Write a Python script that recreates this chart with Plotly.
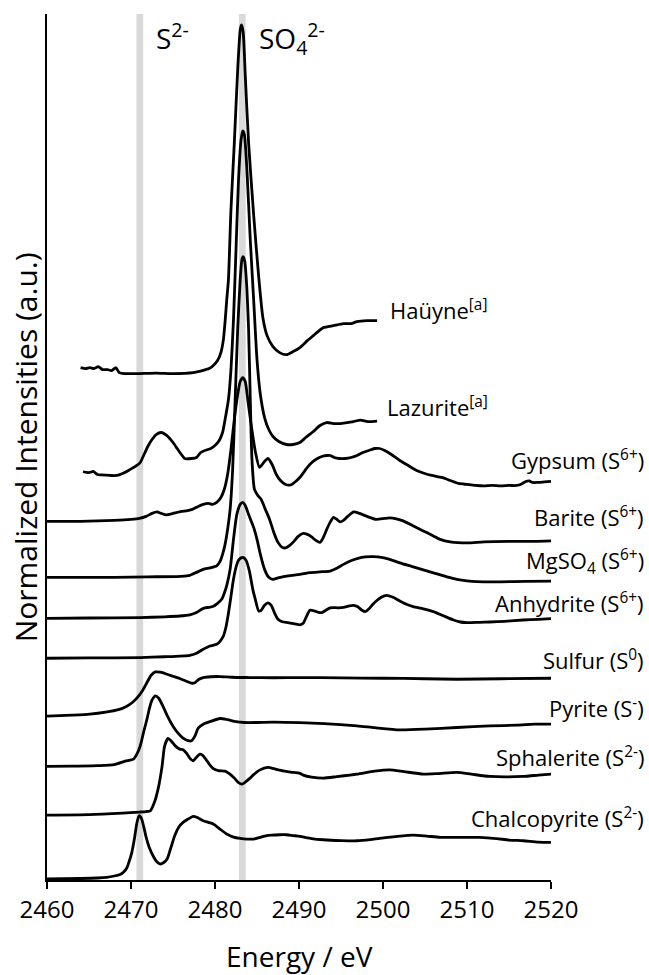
import plotly.graph_objects as go

# ---------------- data (energy in eV, stacked intensity in a.u.) ----------------
hauyne_E = [2464.0,2464.6,2465.1,2465.6,2466.1,2466.6,2467.2,2467.7,2468.2,2468.6,2469.3,2470.7,2473.0,2475.0,2477.4,2478.5,2479.3,2479.8,2480.3,2480.7,2481.0,2481.2,2481.4,2481.6,2481.9,2482.3,2482.7,2483.0,2483.15,2483.35,2483.6,2484.0,2484.6,2485.2,2485.7,2486.2,2486.9,2487.7,2488.5,2489.3,2490.1,2491.0,2491.7,2492.4,2492.9,2494.1,2495.3,2496.2,2496.9,2498.1,2499.3]
hauyne_I = [512,511,512,511,513,510,510,509,512,507,506,506,506.5,506,507,509,511,514,519,527,540,558,580,600,670,737,810,850,855,848,805,737,665,603,562,544,533,527,525,528,532,539,544,549,552,554,556,556,558,559,559]

lazurite_E = [2464.3,2464.7,2465.1,2465.5,2466.0,2466.5,2467.5,2468.3,2469.0,2469.7,2470.3,2470.7,2471.1,2471.5,2472.0,2472.5,2473.0,2473.6,2474.1,2474.5,2475.0,2475.5,2476.0,2476.4,2477.2,2477.8,2478.3,2478.8,2479.5,2480.0,2480.5,2480.9,2481.2,2481.6,2481.9,2482.2,2482.5,2482.8,2483.1,2483.3,2483.5,2483.8,2484.2,2484.6,2485.0,2485.4,2485.9,2486.4,2486.9,2487.6,2488.5,2489.3,2490.1,2490.8,2491.7,2492.5,2493.3,2494.1,2494.9,2495.7,2496.5,2497.3,2498.2,2499.3]
lazurite_I = [408,407,407,408,405,404.5,404,404,406,409,412,414,417,424,433,440,445,447,445,442,437,431,425,421,421,422,427,429,431,434,439,447,460,480,510,560,630,700,740,749,745,710,640,580,520,485,462,450,443,438,435,435,437,442,448,454,457,456,456,457,458,459.5,458,458.5]

gypsum_E = [2460.0,2462.0,2464.0,2466.0,2468.0,2470.0,2471.0,2471.8,2472.5,2473.1,2473.6,2474.2,2475.0,2476.0,2476.6,2477.3,2478.0,2478.6,2479.2,2479.7,2480.2,2480.7,2481.1,2481.5,2481.9,2482.3,2482.7,2483.0,2483.3,2483.6,2483.9,2484.3,2484.8,2485.3,2485.8,2486.3,2486.8,2487.3,2487.8,2488.4,2489.0,2489.6,2490.2,2490.9,2491.4,2492.0,2492.7,2493.3,2493.7,2494.2,2494.8,2495.5,2496.2,2496.9,2497.6,2498.3,2499.0,2499.6,2500.2,2501.0,2502.0,2503.0,2504.0,2504.8,2505.8,2507.0,2508.0,2509.0,2510.0,2511.0,2512.0,2513.0,2514.0,2515.0,2515.9,2516.5,2517.0,2517.4,2517.8,2518.4,2519.2,2520.0]
gypsum_I = [358,358,358,358.5,359,360,361,363,366,367.5,366,364.5,366,368,368.5,370,373,375,376,375,377,382,390,405,430,460,485,498,502,498,480,455,428,412,417,421,415,405,399,395,394.5,398,403,411,416,420,423,424,424,422,421,421,422,424,427,429,431,431,429,425,419,414,409,406.5,404,402,399,396,395,394,393.5,394,393.5,394,394,395.5,398,398.5,397,397,397.5,398]

barite_E = [2460.0,2464.0,2468.0,2472.0,2476.0,2477.0,2477.8,2478.6,2479.4,2480.2,2480.6,2480.9,2481.2,2481.5,2481.8,2482.1,2482.4,2482.7,2483.0,2483.2,2483.35,2483.55,2483.8,2484.0,2484.2,2484.4,2484.7,2485.1,2485.5,2486.0,2486.5,2487.0,2487.5,2488.0,2488.4,2488.9,2489.4,2489.9,2490.5,2491.0,2491.5,2492.0,2492.5,2492.9,2493.3,2493.7,2494.1,2494.5,2494.9,2495.3,2495.8,2496.5,2497.2,2498.1,2499.2,2500.2,2500.8,2501.6,2502.4,2503.5,2504.8,2506.0,2506.8,2508.0,2510.0,2512.0,2515.0,2518.0,2520.0]
barite_I = [302,302,302,302.5,303,304,307,310,311.5,313.5,318,325,335,350,370,410,480,550,600,620,623,618,590,550,480,420,390,384,380,370,360,347,337,332,331.5,334,338,343,346,345,342.5,339,337,342,350,357,362,360,357.5,359,363,367.5,366,363,360,361,361.5,360.5,358.5,354,348.5,343.5,340,337.5,336.5,337.5,338,338,338.5]

mgso4_E = [2460.0,2465.0,2471.1,2474.0,2475.8,2477.0,2477.8,2478.4,2478.8,2479.3,2479.8,2480.3,2480.8,2481.1,2481.4,2481.8,2482.2,2482.6,2483.0,2483.3,2483.6,2484.0,2484.6,2485.0,2485.4,2485.9,2486.4,2486.9,2487.5,2488.3,2489.2,2490.1,2491.3,2492.5,2493.7,2494.5,2495.3,2496.1,2497.0,2497.9,2498.9,2499.8,2500.8,2502.0,2503.4,2504.8,2506.2,2507.6,2508.8,2510.0,2511.2,2514.0,2517.0,2520.0]
mgso4_I = [261,261.3,261.7,262.5,263.3,264.5,266.7,270,271.5,272,273,276,280,286,294,310,340,365,375,377,374,365,352,340,325,310,302,300,301.5,303,304,305,306.7,307.5,308.3,311,315,318.3,321,322.5,322.7,322,320,316.5,313,309.5,306,302.5,300,298.5,297.7,297.5,298,298.3]

anhydrite_E = [2460.0,2465.0,2471.1,2474.0,2477.0,2477.8,2478.6,2479.4,2480.2,2480.6,2481.0,2481.3,2481.6,2481.9,2482.2,2482.5,2482.8,2483.1,2483.4,2483.7,2484.1,2484.5,2484.8,2485.2,2485.5,2485.9,2486.3,2486.7,2487.1,2487.5,2488.0,2488.7,2489.5,2490.1,2490.5,2490.9,2491.3,2491.8,2492.3,2492.7,2493.2,2493.7,2494.1,2494.7,2495.3,2496.0,2496.5,2497.0,2497.5,2497.9,2498.4,2498.8,2499.2,2499.8,2500.4,2501.2,2502.0,2502.8,2503.6,2504.8,2506.0,2507.2,2508.4,2509.2,2510.0,2511.5,2512.7,2514.5,2516.7,2518.5,2520.0]
anhydrite_I = [221,221.3,221.7,222.5,224,226,230,233.3,235,238,243.3,252,266,283,300,312,319,321.5,321.7,319,308,290,280,268.3,269,274,276.5,274,266,260,257.5,256.7,255.5,254.5,256,263,269,268.5,267,266.7,269,271.5,271.7,271.5,272,273.5,274,272.5,269,267.7,271,275,278.3,282,284,282,278.3,275,272.7,270.5,267.7,263.5,259.3,257.3,256.7,257,257.3,258,259.3,260,260.7]

sulfur_E = [2460.0,2463.0,2465.1,2467.0,2468.5,2469.5,2470.2,2470.8,2471.4,2471.9,2472.4,2472.9,2473.5,2474.3,2475.0,2475.8,2476.6,2477.2,2477.6,2478.1,2478.6,2479.5,2480.6,2482.0,2484.0,2487.0,2490.1,2495.0,2500.0,2505.0,2508.8,2514.0,2520.0]
sulfur_I = [163,164,165,167,169.5,173,177,182,189,196.7,204,207.3,207,205,203,200.7,198,196,196.5,200,201.7,202.5,202.7,202,201.7,201.5,201.7,201.3,201,200.5,200,200.5,201]

pyrite_E = [2460.0,2463.0,2466.0,2468.0,2469.3,2470.3,2470.7,2471.1,2471.5,2471.9,2472.2,2472.5,2472.9,2473.3,2473.8,2474.4,2475.0,2475.6,2476.2,2476.8,2477.2,2477.6,2478.0,2478.6,2479.4,2480.6,2481.5,2482.5,2483.5,2485.0,2487.0,2490.1,2493.0,2496.9,2499.0,2502.0,2505.0,2508.8,2512.7,2516.0,2518.0,2520.0]
pyrite_I = [112.7,113,113.5,114.5,118,120,125,133.3,147,160,171,179,183.3,181,173,162,153,146,141,138.5,138.3,143,151,155,157.5,160.7,159.5,157.5,156.7,156.7,157,156.5,155.5,153.3,151.5,149.3,150,151.7,153.3,154,155,155]

sphalerite_E = [2460.0,2465.0,2469.0,2471.0,2471.8,2472.3,2472.8,2473.3,2473.7,2474.0,2474.4,2474.8,2475.3,2475.8,2476.2,2476.6,2477.0,2477.4,2477.8,2478.2,2478.5,2478.9,2479.4,2479.8,2480.4,2481.2,2481.7,2482.3,2482.8,2483.2,2483.6,2484.1,2484.6,2485.3,2486.3,2487.2,2488.1,2489.0,2490.1,2490.5,2491.5,2492.9,2494.5,2496.9,2499.0,2500.8,2502.5,2504.8,2506.5,2508.8,2510.5,2512.7,2516.7,2518.5,2520.0]
sphalerite_I = [64,64.5,66,67,67.5,68.3,77,93,113,133,140.7,138,133,130,129.5,126,121,118.3,122,125,124,120,114,110.5,108.5,108,105.5,101,96.5,95,97,100.5,104.5,109,111.7,110,108.3,107,105.7,104,102,101,102.5,105,108,109.3,107.5,105,105.5,106.7,105,102.7,102.7,104,105]

chalcopyrite_E = [2460.0,2464.0,2466.0,2467.1,2468.0,2468.7,2469.1,2469.5,2469.8,2470.1,2470.4,2470.7,2470.95,2471.2,2471.5,2471.8,2472.2,2472.7,2473.1,2473.5,2473.9,2474.3,2474.7,2475.2,2475.7,2476.2,2476.8,2477.4,2477.9,2478.6,2479.2,2479.8,2480.6,2481.4,2482.2,2483.0,2483.8,2484.6,2485.5,2486.3,2486.9,2487.7,2488.5,2489.3,2490.1,2491.5,2492.9,2495.0,2496.9,2498.5,2499.6,2501.5,2503.6,2505.2,2506.8,2509.0,2511.5,2513.5,2515.0,2516.7,2518.5,2520.0]
chalcopyrite_I = [0,0.5,1,1.7,3,4.5,6.7,11,18,26.7,40,56,63.3,61.5,53,42,31,22,17,15,16.5,20,30,43.3,52,56.7,60,62.7,61.5,58.3,56.7,55,50,45,42,40.7,40,40,42,43.7,44,44.3,44.3,43.5,42.7,40.5,39.3,38.5,38.3,39.5,40.7,42.5,44,43,41.7,41.7,41.7,40.5,39,38.3,37,36.7]

series = [
    (hauyne_E, hauyne_I), (lazurite_E, lazurite_I), (gypsum_E, gypsum_I),
    (barite_E, barite_I), (mgso4_E, mgso4_I), (anhydrite_E, anhydrite_I),
    (sulfur_E, sulfur_I), (pyrite_E, pyrite_I), (sphalerite_E, sphalerite_I),
    (chalcopyrite_E, chalcopyrite_I),
]

# labels
left_labels = ["Haüyne<sup>[a]</sup>", "Lazurite<sup>[a]</sup>"]
left_label_x = [2500.6, 2500.2]
left_label_y = [570, 473]
right_labels = ["Gypsum (S<sup>6+</sup>)", "Barite (S<sup>6+</sup>)", "MgSO<sub>4</sub> (S<sup>6+</sup>)",
                "Anhydrite (S<sup>6+</sup>)", "Sulfur (S<sup>0</sup>)", "Pyrite (S<sup>-</sup>)",
                "Sphalerite (S<sup>2-</sup>)", "Chalcopyrite (S<sup>2-</sup>)"]
right_label_y = [420, 363, 318, 277, 220, 172, 123, 62]

band_centers = [2471.05, 2483.25]
band_labels = ["S<sup>2-</sup>", "SO<sub>4</sub><sup>2-</sup>"]
band_label_x = [2472.7, 2485.0]

x_ticks = [2460, 2470, 2480, 2490, 2500, 2510, 2520]

FONT = "Open Sans"

fig = go.Figure()
for E, I in series:
    fig.add_trace(go.Scatter(x=E, y=I, mode="lines",
                             line=dict(color="black", width=2.8, shape="spline", smoothing=0.6),
                             hoverinfo="skip"))

for c in band_centers:
    fig.add_shape(type="rect", xref="x", yref="paper", x0=c - 0.4, x1=c + 0.4, y0=0, y1=1,
                  fillcolor="#d9d9d9", line=dict(width=0), layer="below")

ann = []
for t, x, y in zip(left_labels, left_label_x, left_label_y):
    ann.append(dict(text=t, x=x, y=y, xref="x", yref="y", xanchor="left", yanchor="middle",
                    showarrow=False, font=dict(family=FONT, size=22, color="black")))
for t, y in zip(right_labels, right_label_y):
    ann.append(dict(text=t, x=1.188, y=y, xref="paper", yref="y", xanchor="right", yanchor="middle",
                    showarrow=False, font=dict(family=FONT, size=22, color="black")))
for t, x in zip(band_labels, band_label_x):
    ann.append(dict(text=t, x=x, y=1.0, xref="x", yref="paper", xanchor="left", yanchor="top",
                    showarrow=False, font=dict(family=FONT, size=28, color="black")))
ann.append(dict(text="Energy / eV", x=0.5, y=-0.088, xref="paper", yref="paper",
                xanchor="center", yanchor="middle", showarrow=False,
                font=dict(family=FONT, size=28, color="black")))
ann.append(dict(text="Normalized Intensities (a.u.)", x=-0.043, y=0.5, xref="paper", yref="paper",
                xanchor="center", yanchor="middle", textangle=-90, showarrow=False,
                font=dict(family=FONT, size=30, color="black")))

fig.update_layout(
    width=649, height=975,
    margin=dict(l=47, r=98, t=14, b=95),
    paper_bgcolor="white", plot_bgcolor="white",
    showlegend=False,
    font=dict(family=FONT, color="black"),
    annotations=ann,
    xaxis=dict(range=[2460, 2520], tickvals=x_ticks, ticktext=[str(v) for v in x_ticks],
               ticks="outside", ticklen=7, tickwidth=1.5, tickcolor="black",
               showline=True, linewidth=1.5, linecolor="black", showgrid=False, zeroline=False,
               tickfont=dict(family=FONT, size=24, color="black")),
    yaxis=dict(range=[-1, 866], showline=True, linewidth=1.5, linecolor="black",
               showticklabels=False, ticks="", showgrid=False, zeroline=False),
)

fig.write_html("out.html")
